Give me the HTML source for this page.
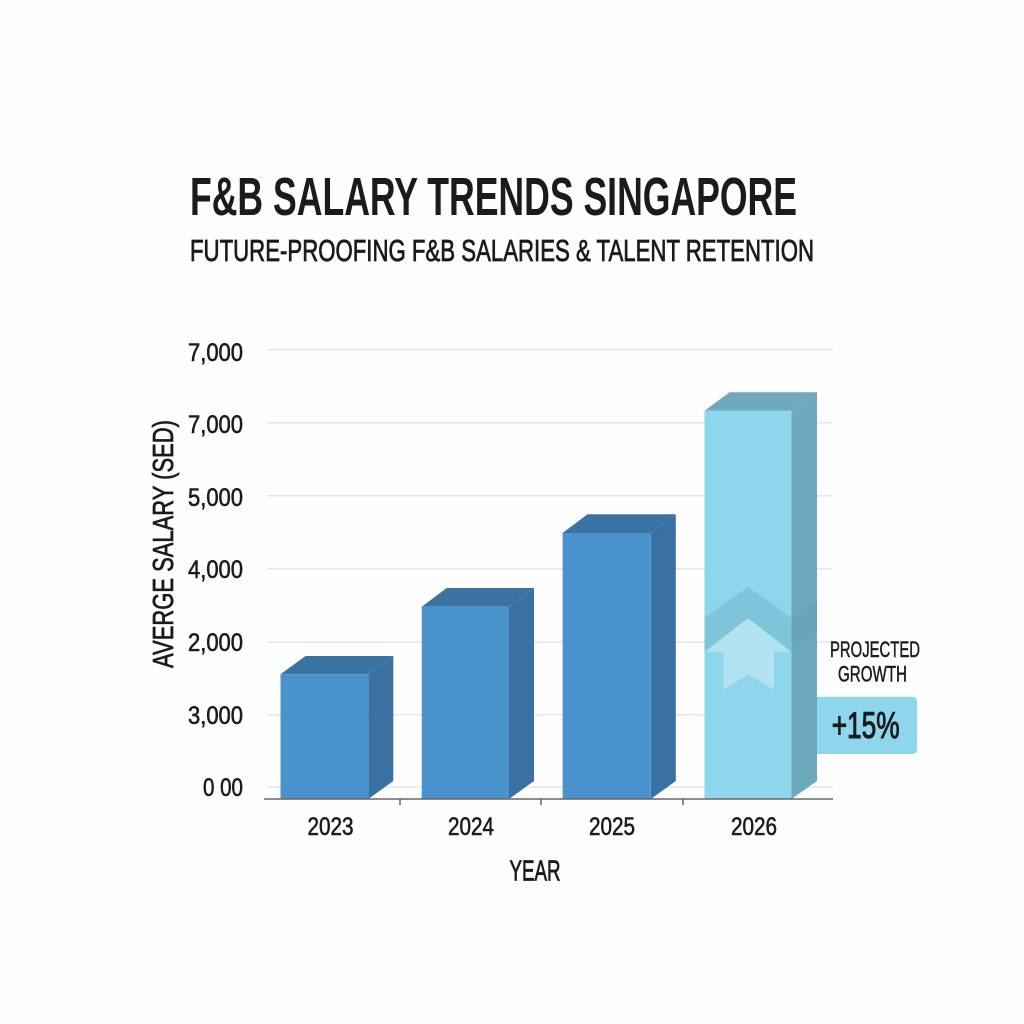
<!DOCTYPE html>
<html><head><meta charset="utf-8"><style>
html,body{margin:0;padding:0;background:#fff;}
svg{display:block;}
text{font-family:"Liberation Sans",sans-serif;fill:#1b1b1b;}
</style></head><body>
<svg width="1024" height="1024" viewBox="0 0 1024 1024" xmlns="http://www.w3.org/2000/svg">
<rect width="1024" height="1024" fill="#fefefe"/>
<!-- titles -->
<text x="190" y="215" font-size="54" font-weight="bold" textLength="607" lengthAdjust="spacingAndGlyphs">F&amp;B SALARY TRENDS SINGAPORE</text>
<text x="190" y="261" font-size="31" stroke="#1b1b1b" stroke-width="0.8" textLength="624" lengthAdjust="spacingAndGlyphs">FUTURE-PROOFING F&amp;B SALARIES &amp; TALENT RETENTION</text>
<!-- gridlines -->
<g stroke="#e6e6e6" stroke-width="1.5">
<line x1="267" y1="349.5" x2="833" y2="349.5"/>
<line x1="267" y1="422.7" x2="833" y2="422.7"/>
<line x1="267" y1="495.7" x2="833" y2="495.7"/>
<line x1="267" y1="568.7" x2="833" y2="568.7"/>
<line x1="267" y1="642" x2="833" y2="642"/>
<line x1="267" y1="714.7" x2="833" y2="714.7"/>
<line x1="267" y1="787" x2="833" y2="787"/>
</g>
<!-- y labels -->
<g font-size="25" text-anchor="end" stroke="#1b1b1b" stroke-width="0.6">
<text x="243" y="361" textLength="55" lengthAdjust="spacingAndGlyphs">7,000</text>
<text x="243" y="433" textLength="55" lengthAdjust="spacingAndGlyphs">7,000</text>
<text x="243" y="506" textLength="55" lengthAdjust="spacingAndGlyphs">5,000</text>
<text x="243" y="578" textLength="55" lengthAdjust="spacingAndGlyphs">4,000</text>
<text x="243" y="651" textLength="55" lengthAdjust="spacingAndGlyphs">2,000</text>
<text x="243" y="724" textLength="55" lengthAdjust="spacingAndGlyphs">3,000</text>
<text x="243" y="796" textLength="40" lengthAdjust="spacingAndGlyphs">0 00</text>
</g>
<!-- y axis title -->
<text transform="translate(173,668) rotate(-90)" font-size="29" stroke="#1b1b1b" stroke-width="0.7" textLength="248" lengthAdjust="spacingAndGlyphs">AVERGE SALARY (SED)</text>
<!-- bars -->
<!-- 2023 -->
<polygon points="280.5,674.3 305.5,656 393.3,656 368.3,674.3" fill="#3a73a2"/>
<polygon points="368.3,674.3 393.3,656 393.3,781 368.3,799" fill="#3872a5"/>
<rect x="280.5" y="674.3" width="87.8" height="124.7" fill="#4a92cc"/>
<!-- 2024 -->
<polygon points="421.7,606.7 446.7,588 534,588 509,606.7" fill="#3a73a2"/>
<polygon points="509,606.7 534,588 534,781 509,799" fill="#3872a5"/>
<rect x="421.7" y="606.7" width="87.3" height="192.3" fill="#4a92cc"/>
<!-- 2025 -->
<polygon points="562.6,533 587.6,514.3 675.8,514.3 650.8,533" fill="#3a73a2"/>
<polygon points="650.8,533 675.8,514.3 675.8,781 650.8,799" fill="#3872a5"/>
<rect x="562.6" y="533" width="88.2" height="266" fill="#4a92cc"/>
<!-- 2026 -->
<polygon points="704.5,410.7 729.5,392.3 817,392.3 791.5,410.7" fill="#6eaabb"/>
<polygon points="791.5,410.7 817,392.3 817,781 791.5,799" fill="#6ba9bd"/>
<rect x="704.5" y="410.7" width="87" height="388.3" fill="#8dd6ec"/>
<polygon points="704.5,618 748,587 791.5,618 791.5,652 748,618.3 704.5,652" fill="#7fc5da"/>
<polygon points="791.5,618 817,600 817,630 791.5,652" fill="#68a5b9"/>
<polygon points="704.5,652 748,618.3 791.5,652 774,652 774,690 748,674.3 723.5,690 723.5,652" fill="#b0e2ef"/>
<!-- axis -->
<line x1="264" y1="799" x2="833" y2="799" stroke="#666" stroke-width="1.5"/>
<g stroke="#666" stroke-width="1.5">
<line x1="400" y1="799" x2="400" y2="805"/>
<line x1="541" y1="799" x2="541" y2="805"/>
<line x1="683" y1="799" x2="683" y2="805"/>
</g>
<!-- x labels -->
<g font-size="25" text-anchor="middle" stroke="#1b1b1b" stroke-width="0.6">
<text x="330.5" y="835" textLength="46" lengthAdjust="spacingAndGlyphs">2023</text>
<text x="471" y="835" textLength="46" lengthAdjust="spacingAndGlyphs">2024</text>
<text x="612" y="835" textLength="46" lengthAdjust="spacingAndGlyphs">2025</text>
<text x="754" y="835" textLength="46" lengthAdjust="spacingAndGlyphs">2026</text>
</g>
<text x="535" y="880.5" font-size="29" text-anchor="middle" stroke="#1b1b1b" stroke-width="0.8" textLength="51" lengthAdjust="spacingAndGlyphs">YEAR</text>
<!-- annotation -->
<text x="830" y="657" font-size="22" stroke="#1b1b1b" stroke-width="0.5" textLength="90" lengthAdjust="spacingAndGlyphs">PROJECTED</text>
<text x="838" y="681.5" font-size="22" stroke="#1b1b1b" stroke-width="0.5" textLength="69" lengthAdjust="spacingAndGlyphs">GROWTH</text>
<path d="M817,696.7 H912 Q917,696.7 917,701.7 V749 Q917,754 912,754 H817 Z" fill="#8dd6ec"/>
<text x="831.7" y="738" font-size="37" stroke="#1b1b1b" stroke-width="1" textLength="68" lengthAdjust="spacingAndGlyphs">+15%</text>
</svg>
</body></html>
